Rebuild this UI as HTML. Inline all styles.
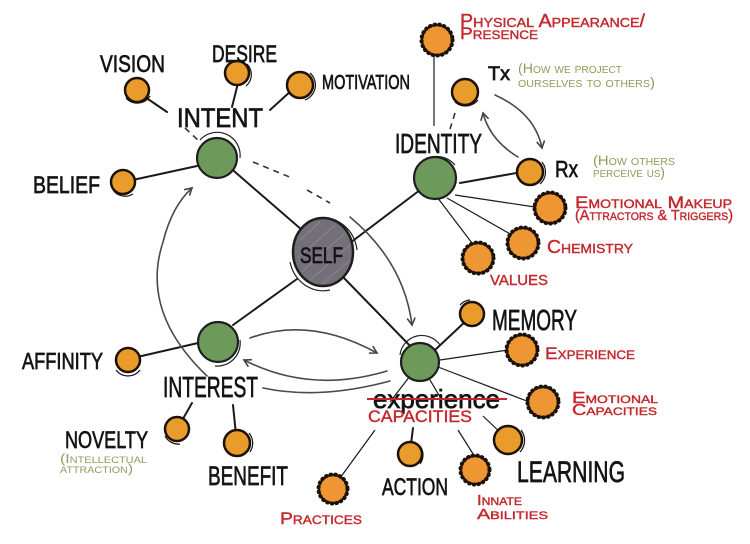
<!DOCTYPE html>
<html><head><meta charset="utf-8"><style>
html,body{margin:0;padding:0;background:#fff;}
svg{display:block;}
.h{font-family:"Liberation Sans",sans-serif;fill:#141414;stroke:#141414;stroke-width:0.7;}
.r{font-family:"Liberation Sans",sans-serif;fill:#c4282d;stroke:#c4282d;stroke-width:0.4;font-variant:small-caps;}
.g{font-family:"Liberation Sans",sans-serif;fill:#8d9c5b;font-variant:small-caps;}
</style></head><body>
<svg width="750" height="544" viewBox="0 0 750 544" xmlns="http://www.w3.org/2000/svg">
<rect width="750" height="544" fill="#fff"/>
<defs>
<marker id="ah" markerWidth="10" markerHeight="10" refX="8" refY="5" orient="auto" markerUnits="userSpaceOnUse">
<path d="M1,1 L8,5 L1,9" fill="none" stroke="#444" stroke-width="1.6"/>
</marker>
</defs>

<!-- solid connectors -->
<g stroke="#1a1a1a" stroke-width="2" fill="none" stroke-linecap="round">
<line x1="227" y1="165" x2="302" y2="230"/>
<line x1="350" y1="243" x2="420" y2="190"/>
<line x1="297" y1="279" x2="233" y2="325"/>
<line x1="343" y1="277" x2="417" y2="353"/>
<line x1="197" y1="166" x2="128" y2="181"/>
<line x1="145" y1="97" x2="167" y2="112"/>
<line x1="238" y1="83" x2="232" y2="107"/>
<line x1="292" y1="90" x2="270" y2="110"/>
<line x1="460" y1="183" x2="522" y2="172"/>
<line x1="198" y1="343" x2="133" y2="358"/>
<line x1="192" y1="403" x2="180" y2="424"/>
<line x1="233" y1="405" x2="236" y2="435"/>
<line x1="435" y1="350" x2="468" y2="319"/>
<line x1="413" y1="428" x2="410" y2="452"/>
</g>
<g stroke="#1a1a1a" stroke-width="1.2" fill="none">
<line x1="455" y1="195" x2="535" y2="207"/>
<line x1="447" y1="198" x2="512" y2="235"/>
<line x1="437" y1="197" x2="475" y2="247"/>
<line x1="434" y1="55" x2="434" y2="126"/>
<line x1="440" y1="360" x2="508" y2="350"/>
<line x1="438" y1="367" x2="532" y2="403"/>
<line x1="420" y1="363" x2="390" y2="402"/>
<line x1="420" y1="363" x2="440" y2="397"/>
<line x1="375" y1="430" x2="340" y2="478"/>
<line x1="458" y1="430" x2="475" y2="457"/>
<line x1="483" y1="416" x2="505" y2="437"/>
</g>
<!-- dashed -->
<g stroke="#333" stroke-width="1.6" fill="none" stroke-dasharray="6,5">
<line x1="185" y1="128" x2="200" y2="142"/>
<line x1="253" y1="162" x2="292" y2="178"/>
<line x1="307" y1="190" x2="330" y2="203"/>
<line x1="455" y1="113" x2="450" y2="129"/>
</g>

<!-- curved arrows -->
<g stroke="#4a4a4a" stroke-width="1.6" fill="none" stroke-linecap="round">
<path d="M495,95 Q535,113 542,148" marker-end="url(#ah)"/>
<path d="M518,157 Q490,140 483,113" marker-end="url(#ah)"/>
<path d="M350,217 Q404,262 412,325" marker-end="url(#ah)"/>
<path d="M250,338 Q310,316 377,353" marker-end="url(#ah)"/>
<path d="M387,371 Q310,394 244,360" marker-end="url(#ah)"/>
<path d="M390,381 Q320,400 263,388"/>
<path d="M207,376 Q140,312 163,242 Q172,206 192,188" marker-end="url(#ah)"/>
</g>

<!-- sketch rings -->
<g stroke="#222" stroke-width="1.2" fill="none">
<path d="M320,218 A34,37 0 0 1 357,250"/>
<path d="M290,262 A34,37 0 0 0 330,290"/>
<path d="M200,140 A23,23 0 0 1 240,158"/>
<path d="M415,170 A24,24 0 0 1 455,165"/>
<path d="M240,340 A23,23 0 0 1 215,366"/>
<path d="M400,355 A22,22 0 0 1 440,345"/>
</g>

<!-- green nodes -->
<g stroke="#1e1e1e" stroke-width="2.2" fill="#6d9a5a">
<circle cx="217" cy="158" r="20"/>
<circle cx="435" cy="178" r="21"/>
<circle cx="218" cy="342" r="20"/>
<circle cx="420" cy="362" r="19"/>
</g>
<!-- self -->
<ellipse cx="323" cy="252" rx="30" ry="34" fill="#74707a" stroke="#1e1e1e" stroke-width="2.5"/>
<g stroke="#9a97a0" stroke-width="1" opacity="0.6">
<line x1="300" y1="240" x2="320" y2="222"/><line x1="298" y1="258" x2="335" y2="225"/>
<line x1="302" y1="272" x2="345" y2="233"/><line x1="310" y1="280" x2="350" y2="245"/>
<line x1="322" y1="284" x2="350" y2="260"/>
</g>

<!-- orange nodes -->
<g stroke="#1c1208" stroke-width="2.5" fill="#e99b2b">
<circle cx="137" cy="90" r="12"/>
<circle cx="237" cy="73" r="12"/>
<circle cx="300" cy="85" r="13"/>
<circle cx="123" cy="182" r="12"/>
<circle cx="465" cy="92" r="13"/>
<circle cx="530" cy="172" r="13"/>
<circle cx="128" cy="360" r="12"/>
<circle cx="177" cy="429" r="12"/>
<circle cx="237" cy="443" r="13"/>
<circle cx="472" cy="314" r="12"/>
<circle cx="508" cy="440" r="14"/>
<circle cx="410" cy="454" r="12"/>
</g>
<g stroke="#1c1208" stroke-width="1.2" fill="none">
<path d="M126,98 A15,15 0 0 0 150,96"/>
<path d="M247,64 A15,15 0 0 1 246,86"/>
<path d="M310,73 A16,16 0 0 1 305,100"/>
<path d="M113,190 A15,15 0 0 0 133,194"/>
<path d="M455,102 A16,16 0 0 0 478,100"/>
<path d="M542,162 A16,16 0 0 1 540,184"/>
<path d="M116,370 A15,15 0 0 0 140,370"/>
<path d="M165,436 A15,15 0 0 0 180,444"/>
<path d="M249,433 A16,16 0 0 1 250,452"/>
<path d="M460,305 A15,15 0 0 1 470,300"/>
<path d="M521,430 A17,17 0 0 1 520,452"/>
<path d="M420,446 A15,15 0 0 1 420,464"/>
</g>
<!-- fuzzy orange nodes -->
<g stroke="#1c1208" stroke-width="2.2" fill="#ef9634">
<circle cx="437" cy="40" r="15"/>
<circle cx="550" cy="208" r="15"/>
<circle cx="523" cy="243" r="15"/>
<circle cx="478" cy="258" r="15"/>
<circle cx="522" cy="350" r="15"/>
<circle cx="543" cy="402" r="15"/>
<circle cx="475" cy="470" r="14"/>
<circle cx="333" cy="489" r="14"/>
</g>
<g stroke="#1c1208" stroke-width="4" fill="none" stroke-dasharray="0.5,4.2" stroke-linecap="round">
<circle cx="437" cy="40" r="15.5"/>
<circle cx="550" cy="208" r="15.5"/>
<circle cx="523" cy="243" r="15.5"/>
<circle cx="478" cy="258" r="15.5"/>
<circle cx="522" cy="350" r="15.5"/>
<circle cx="543" cy="402" r="15.5"/>
<circle cx="475" cy="470" r="14.5"/>
<circle cx="333" cy="489" r="14.5"/>
</g>

<!-- black handwritten labels -->
<g class="h">
<text x="100" y="72" font-size="24" textLength="65" lengthAdjust="spacingAndGlyphs">VISION</text>
<text x="212" y="62" font-size="24" textLength="65" lengthAdjust="spacingAndGlyphs">DESIRE</text>
<text x="322" y="89" font-size="20" textLength="88" lengthAdjust="spacingAndGlyphs">MOTIVATION</text>
<text x="177" y="127" font-size="27" textLength="86" lengthAdjust="spacingAndGlyphs">INTENT</text>
<text x="33" y="193" font-size="24" textLength="67" lengthAdjust="spacingAndGlyphs">BELIEF</text>
<text x="395" y="153" font-size="28" textLength="87" lengthAdjust="spacingAndGlyphs">IDENTITY</text>
<text x="488" y="80" font-size="19" textLength="22" lengthAdjust="spacingAndGlyphs">Tx</text>
<text x="555" y="177" font-size="23" textLength="23" lengthAdjust="spacingAndGlyphs">Rx</text>
<text x="300" y="263" font-size="22" textLength="43" lengthAdjust="spacingAndGlyphs">SELF</text>
<text x="22" y="369" font-size="23" textLength="81" lengthAdjust="spacingAndGlyphs">AFFINITY</text>
<text x="163" y="397" font-size="29" textLength="95" lengthAdjust="spacingAndGlyphs">INTEREST</text>
<text x="65" y="448" font-size="24" textLength="83" lengthAdjust="spacingAndGlyphs">NOVELTY</text>
<text x="208" y="485" font-size="27" textLength="80" lengthAdjust="spacingAndGlyphs">BENEFIT</text>
<text x="492" y="330" font-size="29" textLength="85" lengthAdjust="spacingAndGlyphs">MEMORY</text>
<text x="373" y="408" font-size="26" textLength="127" lengthAdjust="spacingAndGlyphs">experience</text>
<text x="382" y="495" font-size="24" textLength="66" lengthAdjust="spacingAndGlyphs">ACTION</text>
<text x="517" y="482" font-size="30" textLength="108" lengthAdjust="spacingAndGlyphs">LEARNING</text>
</g>
<line x1="367" y1="399" x2="507" y2="399" stroke="#c4282d" stroke-width="2"/>

<!-- red labels -->
<g class="r">
<text x="460" y="27" font-size="18" textLength="185" lengthAdjust="spacingAndGlyphs">Physical Appearance/</text>
<text x="460" y="39" font-size="17" textLength="78" lengthAdjust="spacingAndGlyphs">Presence</text>
<text x="575" y="208" font-size="17" textLength="157" lengthAdjust="spacingAndGlyphs">Emotional Makeup</text>
<text x="575" y="220" font-size="15" textLength="158" lengthAdjust="spacingAndGlyphs">(Attractors &amp; Triggers)</text>
<text x="547" y="253" font-size="18" textLength="86" lengthAdjust="spacingAndGlyphs">Chemistry</text>
<text x="490" y="285" font-size="15" textLength="58" lengthAdjust="spacingAndGlyphs">VALUES</text>
<text x="545" y="359" font-size="17" textLength="90" lengthAdjust="spacingAndGlyphs">Experience</text>
<text x="572" y="403" font-size="16" textLength="86" lengthAdjust="spacingAndGlyphs">Emotional</text>
<text x="572" y="415" font-size="16" textLength="85" lengthAdjust="spacingAndGlyphs">Capacities</text>
<text x="368" y="422" font-size="17" textLength="104" lengthAdjust="spacingAndGlyphs">CAPACITIES</text>
<text x="477" y="505" font-size="15" textLength="45" lengthAdjust="spacingAndGlyphs">Innate</text>
<text x="477" y="519" font-size="15" textLength="71" lengthAdjust="spacingAndGlyphs">Abilities</text>
<text x="280" y="524" font-size="17" textLength="82" lengthAdjust="spacingAndGlyphs">Practices</text>
</g>

<!-- green labels -->
<g class="g">
<text x="518" y="73" font-size="14" textLength="104" lengthAdjust="spacingAndGlyphs">(How we project</text>
<text x="518" y="87" font-size="14" textLength="137" lengthAdjust="spacingAndGlyphs">ourselves to others)</text>
<text x="593" y="165" font-size="14" textLength="82" lengthAdjust="spacingAndGlyphs">(How others</text>
<text x="593" y="177" font-size="14" textLength="72" lengthAdjust="spacingAndGlyphs">perceive us)</text>
<text x="60" y="463" font-size="13" textLength="87" lengthAdjust="spacingAndGlyphs">(Intellectual</text>
<text x="60" y="473" font-size="13" textLength="73" lengthAdjust="spacingAndGlyphs">attraction)</text>
</g>
</svg>
</body></html>
